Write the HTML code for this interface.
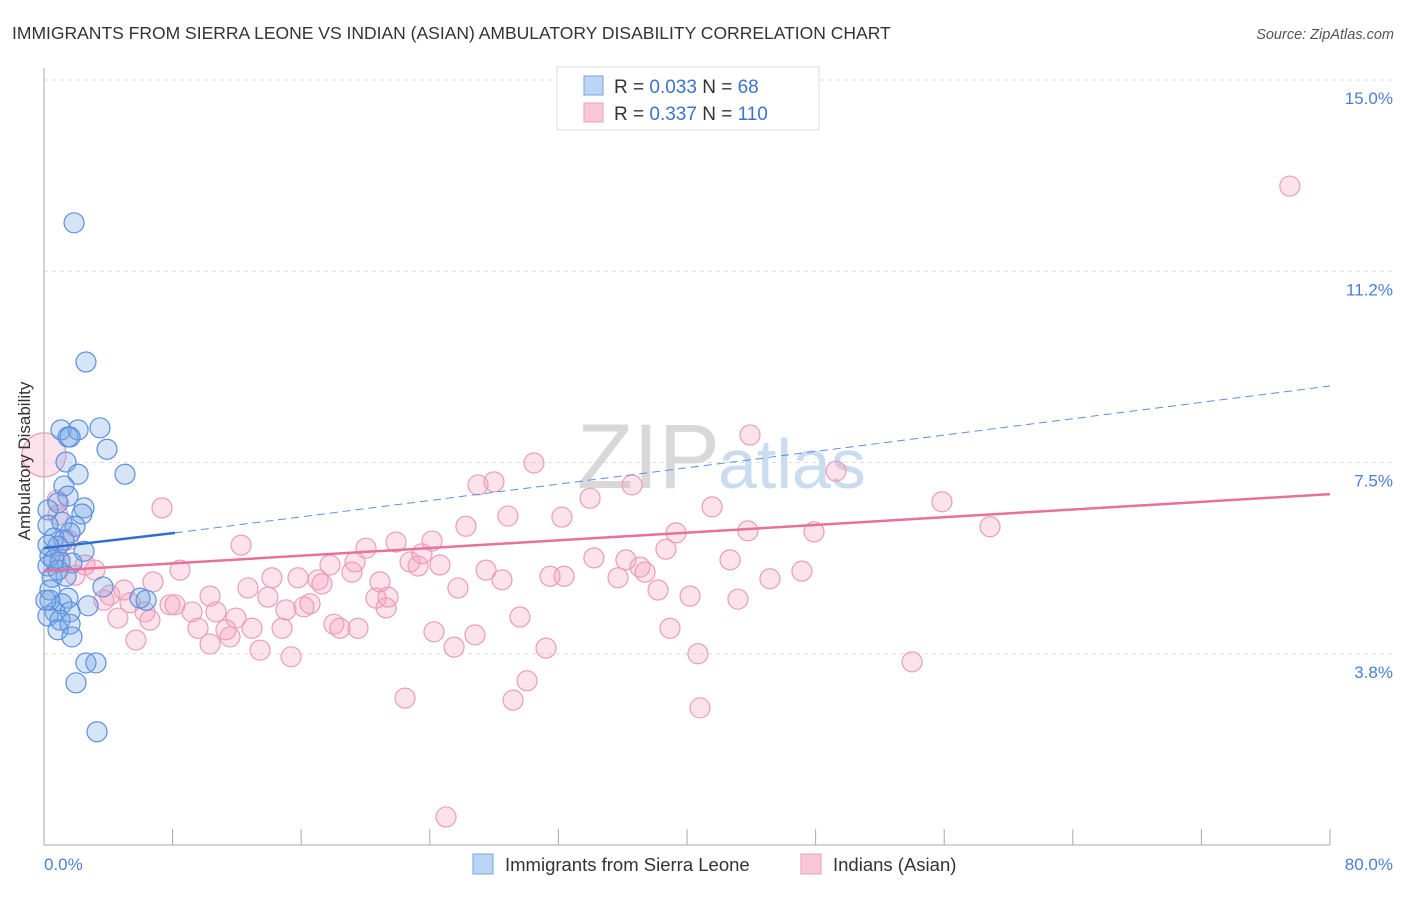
<!DOCTYPE html>
<html><head><meta charset="utf-8"><style>
body{margin:0;background:#fff;font-family:"Liberation Sans",sans-serif;}
svg text{font-family:"Liberation Sans",sans-serif;}
</style></head><body>
<svg width="1406" height="892" viewBox="0 0 1406 892">
<text x="12" y="39" font-size="17.5" fill="#333">IMMIGRANTS FROM SIERRA LEONE VS INDIAN (ASIAN) AMBULATORY DISABILITY CORRELATION CHART</text>
<text x="1394" y="39" font-size="14.5" fill="#555" font-style="italic" text-anchor="end">Source: ZipAtlas.com</text>
<g id="grid"></g>
<text x="720" y="488" font-size="92" fill="#d8d8d8" text-anchor="end" font-family="Liberation Serif">ZIP</text>
<text x="718" y="488" font-size="70" fill="#c9dcf0">atlas</text>
<g id="axes"></g>
<g id="pts"></g>
<g id="lines"></g>
<text x="24" y="455" font-size="17" fill="#333" text-anchor="middle" transform="rotate(-90 30 455)">Ambulatory Disability</text>
<text x="44" y="870" font-size="17" fill="#4a7fd4">0.0%</text>
<text x="1393" y="870" font-size="17" fill="#4a7fd4" text-anchor="end">80.0%</text>
<g>
<rect x="557" y="67" width="262" height="63" fill="#fff" stroke="#ddd"/>
<rect x="584" y="76" width="19" height="19" fill="#bcd4f5" stroke="#7aa3e0"/>
<rect x="584" y="103" width="19" height="19" fill="#f9c8d8" stroke="#eba0b8"/>
<text x="614" y="93" font-size="19" fill="#333">R = <tspan fill="#3a73d0">0.033</tspan>   N =  <tspan fill="#3a73d0"> 68</tspan></text>
<text x="614" y="120" font-size="19" fill="#333">R =  <tspan fill="#3a73d0">0.337</tspan>   N = <tspan fill="#3a73d0">110</tspan></text>
</g>
<g>
<rect x="473" y="854" width="20" height="20" fill="#bcd4f5" stroke="#7aa3e0"/>
<text x="505" y="871" font-size="18.5" fill="#333">Immigrants from Sierra Leone</text>
<rect x="801" y="854" width="20" height="20" fill="#f9c8d8" stroke="#eba0b8"/>
<text x="833" y="871" font-size="18.5" fill="#333">Indians (Asian)</text>
</g>
</svg>
<script>
const yTicks=[3.75,7.5,11.25,15];
const yTickLabels=["3.8%","7.5%","11.2%","15.0%"];
const xTicks=[0,8,16,24,32,40,48,56,64,72,80];
const blueX=[1.87,2.61,3.48,1.06,2.12,1.49,1.62,3.92,5.04,1.37,2.12,1.24,1.49,2.49,2.36,0.87,0.25,1.93,1.12,1.62,0.25,0.62,1.24,0.87,0.25,2.49,0.37,1.0,1.74,0.25,1.37,0.5,3.67,0.37,1.49,1.12,2.74,5.97,6.35,0.68,1.62,0.25,1.0,1.62,0.87,1.74,2.61,3.23,1.99,3.3,0.37,0.87,0.12,0.62];
const blueY=[12.2,9.47,8.18,8.14,8.14,8.0,8.0,7.76,7.27,7.51,7.27,7.04,6.84,6.61,6.49,6.71,6.57,6.25,6.33,6.12,6.27,6.02,5.98,5.86,5.88,5.76,5.67,5.55,5.53,5.47,5.27,5.25,5.06,5.0,4.84,4.73,4.69,4.84,4.8,4.57,4.57,4.49,4.41,4.33,4.22,4.08,3.57,3.57,3.18,2.22,4.8,5.39,4.8,5.59];
const pinkX=[0.0,0.81,0.87,7.34,1.49,2.55,3.17,1.93,1.0,4.1,3.73,4.98,5.35,6.78,4.6,6.28,5.72,6.59,7.84,8.46,8.15,9.21,9.58,10.33,10.7,11.32,11.57,10.33,12.26,11.94,12.69,12.94,13.44,13.93,14.18,14.81,15.05,15.37,15.8,16.17,16.55,17.05,17.29,17.79,18.04,18.41,19.16,19.35,19.53,20.03,20.65,20.9,21.28,21.4,21.9,22.46,22.77,23.27,23.51,24.14,24.26,24.63,25.01,25.51,25.75,26.25,26.81,27.0,27.5,27.99,28.49,28.86,29.18,29.61,30.05,30.48,31.23,31.48,32.22,32.35,33.97,34.21,35.71,36.2,36.58,37.08,37.39,38.2,38.69,38.94,39.32,40.19,40.68,40.81,41.56,42.68,43.17,43.79,43.92,45.16,47.15,47.9,49.27,54.0,55.86,58.85,77.5];
const pinkY=[7.65,6.76,6.47,6.61,5.98,5.49,5.39,5.29,5.59,4.9,4.8,5.0,4.75,5.16,4.45,4.57,4.02,4.41,4.71,5.39,4.71,4.57,4.25,4.88,4.57,4.22,4.08,3.94,5.88,4.45,5.04,4.25,3.82,4.86,5.24,4.25,4.61,3.69,5.24,4.67,4.73,5.2,5.12,5.49,4.33,4.25,5.35,5.55,4.25,5.82,4.84,5.16,4.65,4.86,5.94,2.88,5.55,5.47,5.71,5.96,4.18,5.49,0.55,3.88,5.04,6.25,4.12,7.06,5.39,7.12,5.2,6.45,2.84,4.47,3.22,7.49,3.86,5.27,6.43,5.27,6.8,5.63,5.24,5.59,7.06,5.45,5.35,5.0,5.8,4.25,6.12,4.88,3.75,2.69,6.63,5.59,4.82,6.16,8.04,5.22,5.37,6.14,7.33,3.59,6.73,6.24,12.92];
const blueTrend=[5.82,6.12,9.0]; // at x 0, 8.15, 80
const pinkTrend=[5.37,6.88]; // at x 0, 80
const NS="http://www.w3.org/2000/svg";
const X=v=>44+v*16.075, Y=v=>80+(15-v)*51.0;
function mk(t,a,p){const e=document.createElementNS(NS,t);for(const k in a)e.setAttribute(k,a[k]);p.appendChild(e);return e;}
const grid=document.getElementById('grid'),axes=document.getElementById('axes');
yTicks.forEach((v,i)=>{
 const l=mk('line',{x1:44,x2:1394,y1:Y(v),y2:Y(v),stroke:'#ddd','stroke-dasharray':'4,4'},grid);
 
 
 const t=mk('text',{x:1393,y:Y(v)+24,'font-size':17,fill:'#4a7fd4','text-anchor':'end'},axes);
 t.textContent=yTickLabels[i];
 
 
});
mk('line',{x1:44,x2:44,y1:68,y2:845,stroke:'#aaa'},axes);
mk('line',{x1:44,x2:1330,y1:845,y2:845,stroke:'#aaa'},axes);
xTicks.forEach(v=>{const l=mk('line',{x1:X(v),x2:X(v),y1:829,y2:845,stroke:'#aaa'},axes);
 
 });
const pts=document.getElementById('pts');
pinkX.forEach((x,i)=>{const c=mk('circle',{cx:X(x),cy:Y(pinkY[i]),r:i==0?22:10,fill:'rgba(244,160,188,0.3)',stroke:'#eb9cb8','stroke-width':1.2},pts);
 
 });
blueX.forEach((x,i)=>{const c=mk('circle',{cx:X(x),cy:Y(blueY[i]),r:10,fill:'rgba(120,165,230,0.3)',stroke:'#5b8fe0','stroke-width':1.2},pts);
 
 });
const ln=document.getElementById('lines');
let a=mk('line',{x1:X(0),y1:Y(pinkTrend[0]),x2:X(80),y2:Y(pinkTrend[1]),stroke:'#e8709a','stroke-width':2.5},ln);


a=mk('line',{x1:X(0),y1:Y(blueTrend[0]),x2:X(8.15),y2:Y(blueTrend[1]),stroke:'#2f6fd0','stroke-width':2.5},ln);


a=mk('line',{x1:X(8.15),y1:Y(blueTrend[1]),x2:X(80),y2:Y(blueTrend[2]),stroke:'#5b8fe0','stroke-width':1,'stroke-dasharray':'8,5'},ln);


</script>
</body></html>
